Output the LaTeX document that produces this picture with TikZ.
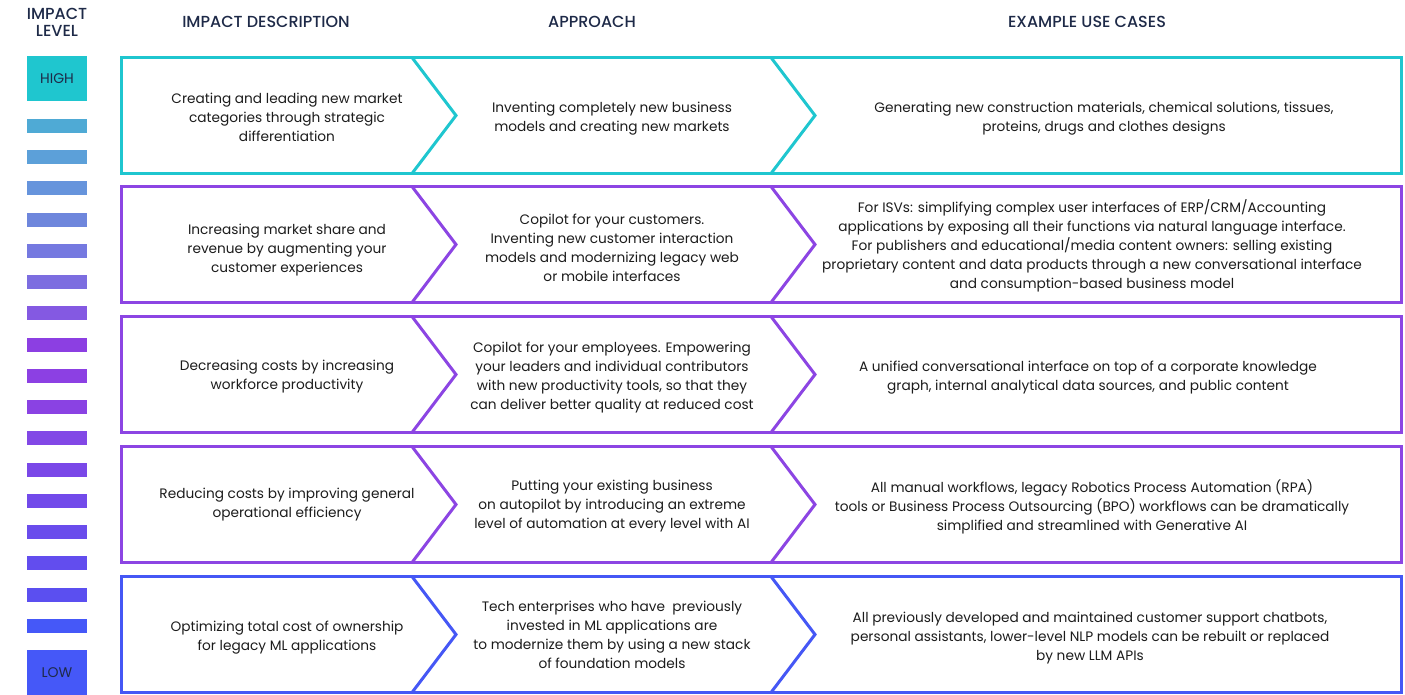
\documentclass[tikz,border=0pt]{standalone}
\usepackage{fontspec}
\setmainfont{Poppins}
\newfontfamily\headfont{Poppins Medium}
\usetikzlibrary{positioning}

\definecolor{lvlcyan}{HTML}{1FC6CF}
\definecolor{lvlpurple}{HTML}{8C45E3}
\definecolor{lvlblue}{HTML}{4557F5}
\definecolor{headnavy}{HTML}{1E2A48}
\definecolor{bodytext}{HTML}{1C1C1C}

\definecolor{bar1}{HTML}{4FAAD5}
\definecolor{bar2}{HTML}{5CA0D9}
\definecolor{bar3}{HTML}{6694DC}
\definecolor{bar4}{HTML}{6E86DC}
\definecolor{bar5}{HTML}{7579E0}
\definecolor{bar6}{HTML}{7C6DE0}
\definecolor{bar7}{HTML}{8459E2}
\definecolor{bar8}{HTML}{8C3FE2}
\definecolor{bar9}{HTML}{8C40E3}
\definecolor{bar10}{HTML}{8A42E3}
\definecolor{bar11}{HTML}{8248E6}
\definecolor{bar12}{HTML}{7A48E8}
\definecolor{bar13}{HTML}{724AEA}
\definecolor{bar14}{HTML}{6A4CEC}
\definecolor{bar15}{HTML}{624DEE}
\definecolor{bar16}{HTML}{5B4FF0}
\definecolor{bar17}{HTML}{4558F8}

\tikzset{
	header/.style={font=\headfont\fontsize{16}{17}\selectfont, text=headnavy, align=center, inner sep=0pt},
	body/.style={font=\fontsize{13.7}{19}\selectfont, text=bodytext, align=center, inner sep=0pt},
	rowline/.style={line width=3pt, line join=miter},
	levelbox/.style={minimum width=60pt, minimum height=45pt, inner sep=0pt, text=headnavy, font=\fontsize{14}{16}\selectfont}
}

\begin{document}
\begin{tikzpicture}[x=1pt,y=-1pt]
	\useasboundingbox (0,0) rectangle (1405,695);

	\node[header] (lvlhead) at (57,22) {IMPACT\\LEVEL};
	\node[header] (deschead) at (266,22) {IMPACT DESCRIPTION};
	\node[header] (apphead) at (592,22) {APPROACH};
	\node[header] (usehead) at (1087,22) {EXAMPLE USE CASES};

	\node[levelbox, fill=lvlcyan] (high) at (57,78.5) {HIGH};
	\node[levelbox, fill=bar17] (low) at (57,672.5) {LOW};

	\fill[bar1] (27,119) rectangle (87,133);
	\fill[bar2] (27,150) rectangle (87,164);
	\fill[bar3] (27,181) rectangle (87,195);
	\fill[bar4] (27,213) rectangle (87,227);
	\fill[bar5] (27,244) rectangle (87,258);
	\fill[bar6] (27,275) rectangle (87,289);
	\fill[bar7] (27,306) rectangle (87,320);
	\fill[bar8] (27,338) rectangle (87,352);
	\fill[bar9] (27,369) rectangle (87,383);
	\fill[bar10] (27,400) rectangle (87,414);
	\fill[bar11] (27,431) rectangle (87,445);
	\fill[bar12] (27,463) rectangle (87,477);
	\fill[bar13] (27,494) rectangle (87,508);
	\fill[bar14] (27,525) rectangle (87,539);
	\fill[bar15] (27,556) rectangle (87,570);
	\fill[bar16] (27,588) rectangle (87,602);
	\fill[bar17] (27,619) rectangle (87,633);

	% row 1
	\draw[rowline,lvlcyan] (121.5,57.5) rectangle (1401.5,173.5);
	\draw[rowline,lvlcyan] (412,57.5) -- (456,115.5) -- (412,173.5);
	\draw[rowline,lvlcyan] (771,57.5) -- (815,115.5) -- (771,173.5);
	\node[body] (desc1) at (287,117) {Creating and leading new market\\categories through strategic\\differentiation};
	\node[body] (appr1) at (612,119) {Inventing completely new business\\models and creating new markets};
	\node[body] (use1) at (1104,119) {Generating new construction materials, chemical solutions, tissues,\\proteins, drugs and clothes designs};

	% row 2
	\draw[rowline,lvlpurple] (121.5,186.5) rectangle (1401.5,302.5);
	\draw[rowline,lvlpurple] (412,186.5) -- (456,244.5) -- (412,302.5);
	\draw[rowline,lvlpurple] (771,186.5) -- (815,244.5) -- (771,302.5);
	\node[body] (desc2) at (287,250) {Increasing market share and\\revenue by augmenting your\\customer experiences};
	\node[body] (appr2) at (612,248) {Copilot for your customers.\\Inventing new customer interaction\\models and modernizing legacy web\\or mobile interfaces};
	\node[body] (use2) at (1092,246) {For ISVs: simplifying complex user interfaces of ERP/CRM/Accounting\\applications by exposing all their functions via natural language interface.\\For publishers and educational/media content owners: selling existing\\proprietary content and data products through a new conversational interface\\and consumption-based business model};

	% row 3
	\draw[rowline,lvlpurple] (121.5,316.5) rectangle (1401.5,432.5);
	\draw[rowline,lvlpurple] (412,316.5) -- (456,374.5) -- (412,432.5);
	\draw[rowline,lvlpurple] (771,316.5) -- (815,374.5) -- (771,432.5);
	\node[body] (desc3) at (287,377) {Decreasing costs by increasing\\workforce productivity};
	\node[body] (appr3) at (612,378) {Copilot for your employees. Empowering\\your leaders and individual contributors\\with new productivity tools, so that they\\can deliver better quality at reduced cost};
	\node[body] (use3) at (1088,378) {A unified conversational interface on top of a corporate knowledge\\graph, internal analytical data sources, and public content};

	% row 4
	\draw[rowline,lvlpurple] (121.5,446.5) rectangle (1401.5,562.5);
	\draw[rowline,lvlpurple] (412,446.5) -- (456,504.5) -- (412,562.5);
	\draw[rowline,lvlpurple] (771,446.5) -- (815,504.5) -- (771,562.5);
	\node[body] (desc4) at (287,505) {Reducing costs by improving general\\operational efficiency};
	\node[body] (appr4) at (612,506) {Putting your existing business\\on autopilot by introducing an extreme\\level of automation at every level with AI};
	\node[body] (use4) at (1092,507) {All manual workflows, legacy Robotics Process Automation (RPA)\\tools or Business Process Outsourcing (BPO) workflows can be dramatically\\simplified and streamlined with Generative AI};

	% row 5
	\draw[rowline,lvlblue] (121.5,576.5) rectangle (1401.5,692.5);
	\draw[rowline,lvlblue] (412,576.5) -- (456,634.5) -- (412,692.5);
	\draw[rowline,lvlblue] (771,576.5) -- (815,634.5) -- (771,692.5);
	\node[body] (desc5) at (287,638) {Optimizing total cost of ownership\\for legacy ML applications};
	\node[body] (appr5) at (612,635) {Tech enterprises who have~ previously\\invested in ML applications are\\to modernize them by using a new stack\\of foundation models};
	\node[body] (use5) at (1090,638.5) {All previously developed and maintained customer support chatbots,\\personal assistants, lower-level NLP models can be rebuilt or replaced\\by new LLM APIs};
\end{tikzpicture}
\end{document}
